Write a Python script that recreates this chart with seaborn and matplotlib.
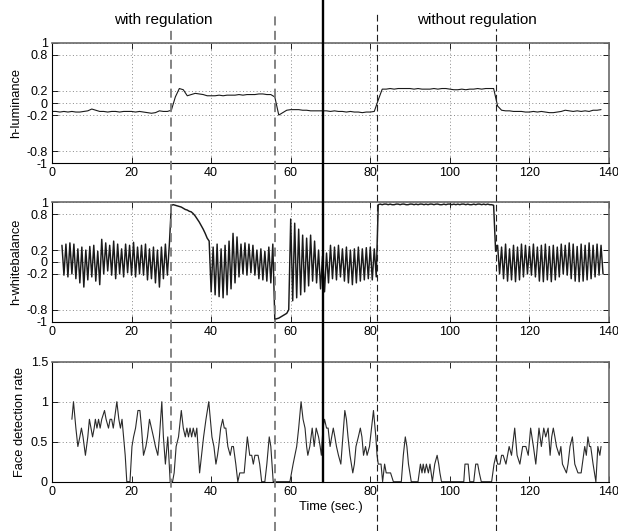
import numpy as np
import pandas as pd
import matplotlib
matplotlib.use("Agg")
import matplotlib.pyplot as plt
import seaborn as sns
from matplotlib.lines import Line2D

# ---------------- data ----------------
xticks = [0, 20, 40, 60, 80, 100, 120, 140]
xticklabels = ["0", "20", "40", "60", "80", "100", "120", "140"]

lum_yticks = [-1, -0.8, -0.2, 0, 0.2, 0.8, 1]
lum_yticklabels = ["-1", "-0.8", "-0.2", "0", "0.2", "0.8", "1"]
wb_yticks = [-1, -0.8, -0.2, 0, 0.2, 0.8, 1]
wb_yticklabels = ["-1", "-0.8", "-0.2", "0", "0.2", "0.8", "1"]
fd_yticks = [0, 0.5, 1, 1.5]
fd_yticklabels = ["0", "0.5", "1", "1.5"]

# h-luminance, sampled every 1 s starting at t = 0
lum_t0, lum_dt = 0.0, 1.0
lum_v = [
    -0.14, -0.14, -0.15, -0.14, -0.15, -0.14, -0.15, -0.15, -0.14, -0.13,
    -0.10, -0.12, -0.14, -0.14, -0.15, -0.14, -0.14, -0.15, -0.14, -0.14,
    -0.14, -0.15, -0.14, -0.15, -0.16, -0.17, -0.16, -0.13, -0.14, -0.14,
    -0.12, 0.10, 0.24, 0.22, 0.12, 0.14, 0.16, 0.15, 0.14, 0.12,
    0.12, 0.12, 0.13, 0.12, 0.13, 0.13, 0.13, 0.14, 0.13, 0.14,
    0.14, 0.14, 0.15, 0.15, 0.14, 0.14, 0.10, -0.20, -0.16, -0.12,
    -0.11, -0.11, -0.11, -0.12, -0.12, -0.13, -0.13, -0.13, -0.13, -0.13,
    -0.14, -0.13, -0.14, -0.14, -0.15, -0.14, -0.15, -0.15, -0.16, -0.15,
    -0.15, -0.14, 0.05, 0.23, 0.23, 0.24, 0.23, 0.24, 0.24, 0.24,
    0.24, 0.23, 0.24, 0.23, 0.23, 0.23, 0.24, 0.23, 0.24, 0.24,
    0.23, 0.22, 0.22, 0.23, 0.22, 0.23, 0.23, 0.24, 0.23, 0.24,
    0.24, 0.24, -0.05, -0.12, -0.13, -0.13, -0.14, -0.14, -0.14, -0.15,
    -0.15, -0.14, -0.15, -0.14, -0.15, -0.16, -0.16, -0.15, -0.14, -0.12,
    -0.13, -0.14, -0.13, -0.14, -0.13, -0.14, -0.12, -0.12, -0.11,
]

# h-whitebalance, sampled every 0.5 s starting at t = 2.5
wb_t0, wb_dt = 2.5, 0.5
wb_osc1 = [  # 2.5 .. 29.5
    0.28, -0.22, 0.30, -0.25, 0.32, -0.20, 0.30, -0.28, 0.22, -0.35,
    0.25, -0.42, 0.20, -0.30, 0.26, -0.25, 0.28, -0.32, 0.18, -0.38,
    0.38, -0.20, 0.32, -0.15, 0.28, -0.22, 0.35, -0.28, 0.30, -0.20,
    0.22, -0.25, 0.30, -0.18, 0.28, -0.22, 0.33, -0.25, 0.25, -0.20,
    0.28, -0.22, 0.30, -0.30, 0.22, -0.28, 0.25, -0.35, 0.20, -0.42,
    0.25, -0.28, 0.30, -0.22, 0.30,
]
wb_decay = [  # 30.0 .. 39.0
    0.95, 0.96, 0.95, 0.94, 0.93, 0.92, 0.90, 0.88, 0.87, 0.85,
    0.84, 0.81, 0.77, 0.72, 0.67, 0.61, 0.55, 0.48, 0.40,
]
wb_osc2 = [  # 39.5 .. 55.5
    0.35, -0.50, 0.25, -0.55, 0.30, -0.58, 0.22, -0.60, 0.28, -0.55,
    0.35, -0.45, 0.48, -0.35, 0.42, -0.25, 0.30, -0.20, 0.32, -0.22,
    0.30, -0.18, 0.28, -0.22, 0.20, -0.28, 0.22, -0.30, 0.18, -0.32,
    0.25, -0.35, 0.30,
]
wb_low = [-0.96, -0.95, -0.94, -0.92, -0.90, -0.88, -0.86, -0.80]  # 56.0 .. 59.5
wb_osc3 = [  # 60.0 .. 81.5
    0.72, -0.65, 0.65, -0.60, 0.55, -0.55, 0.45, -0.50, 0.40, -0.40,
    0.45, -0.32, 0.35, -0.35, 0.20, -0.45, 0.10, -0.50, 0.15, -0.35,
    0.28, -0.28, 0.25, -0.30, 0.28, -0.25, 0.22, -0.32, 0.25, -0.35,
    0.20, -0.38, 0.22, -0.35, 0.25, -0.32, 0.22, -0.30, 0.24, -0.28,
    0.25, -0.30, 0.22, -0.25,
]
wb_high = [  # 82.0 .. 111.0
    0.96, 0.97, 0.96, 0.97, 0.97, 0.96, 0.97, 0.96, 0.96, 0.97,
    0.97, 0.96, 0.97, 0.97, 0.96, 0.96, 0.97, 0.97, 0.96, 0.97,
    0.96, 0.97, 0.97, 0.96, 0.97, 0.96, 0.97, 0.97, 0.96, 0.97,
    0.97, 0.96, 0.96, 0.97, 0.96, 0.97, 0.97, 0.96, 0.97, 0.96,
    0.97, 0.96, 0.97, 0.97, 0.96, 0.97, 0.96, 0.96, 0.97, 0.96,
    0.97, 0.97, 0.96, 0.97, 0.96, 0.97, 0.96, 0.96, 0.95,
]
wb_osc4 = [  # 111.5 .. 138.5
    0.18,
    0.28, -0.20, 0.25, -0.28, 0.30, -0.32, 0.22, -0.30, 0.28, -0.33,
    0.25, -0.30, 0.30, -0.25, 0.28, -0.20, 0.26, -0.22, 0.30, -0.25,
    0.25, -0.32, 0.28, -0.33, 0.30, -0.30, 0.26, -0.33, 0.28, -0.30,
    0.25, -0.25, 0.30, -0.20, 0.28, -0.22, 0.32, -0.28, 0.30, -0.32,
    0.26, -0.33, 0.30, -0.32, 0.28, -0.30, 0.32, -0.28, 0.28, -0.25,
    0.30, -0.22, 0.28, -0.20,
]

# face detection rate: (time, value) vertices
fd_t = [
    5.0, 5.4, 6.0, 6.5, 7.0, 7.4, 7.8, 8.4, 9.0, 9.4, 9.8, 10.2, 10.6, 10.9, 11.3, 11.7,
    12.1, 12.5, 13.2, 13.6, 14.2, 14.6, 15.0, 15.4, 16.3, 16.8, 17.2, 17.6, 18.0, 18.4,
    18.8, 19.6, 20.1, 20.5, 21.0, 21.6, 22.1, 22.5, 23.0, 23.6, 24.0, 24.5, 25.0, 25.5,
    26.0, 26.6, 27.0, 27.6, 28.0, 28.5, 29.1, 29.7, 30.3, 30.7, 31.2, 31.8, 32.5, 33.0,
    33.5, 33.9, 34.3, 34.7, 35.1, 35.5, 36.0, 36.4, 37.1, 37.6, 38.1, 38.7, 39.4, 39.8,
    40.2, 40.7, 41.2, 41.6, 41.9, 42.4, 42.9, 43.3, 43.7, 44.2, 44.8, 45.2, 45.6, 46.2,
    46.7, 47.2, 48.3, 49.1, 49.7, 50.2, 50.6, 51.0, 51.8, 52.2, 52.7, 53.5, 54.0, 54.6,
    55.0, 55.3, 55.6, 59.8, 60.6, 61.5, 62.0, 62.6, 63.1, 63.6, 64.0, 64.3, 64.8, 65.1,
    65.4, 65.9, 66.4, 67.0, 67.4, 67.7, 68.1, 68.5, 69.0, 69.4, 69.9, 70.3, 70.7, 71.1,
    71.5, 72.0, 72.6, 73.1, 73.6, 74.0, 74.4, 74.9, 75.6, 76.0, 76.4, 77.0, 77.5, 77.9,
    78.3, 78.8, 79.2, 79.8, 80.3, 80.8, 81.4, 81.7, 82.0, 82.7, 83.1, 83.6, 84.0, 85.1,
    85.8, 87.8, 88.3, 88.8, 89.2, 89.6, 90.3, 92.0, 92.6, 93.0, 93.3, 93.7, 94.1, 94.6,
    95.0, 95.6, 96.2, 96.8, 97.2, 97.5, 97.9, 103.5, 103.8, 104.6, 105.0, 106.0, 106.5,
    107.0, 107.4, 107.9, 110.5, 111.1, 111.6, 112.0, 112.6, 113.0, 113.4, 114.1, 114.5,
    114.9, 115.5, 116.3, 116.9, 117.6, 118.3, 119.1, 119.7, 120.3, 121.0, 121.6, 122.4,
    123.0, 123.6, 124.1, 124.7, 125.2, 125.6, 126.0, 126.4, 126.8, 127.5, 127.9, 128.3,
    129.3, 129.7, 130.2, 130.8, 131.4, 132.2, 133.0, 133.9, 134.3, 134.7, 135.1, 135.4,
    136.0, 136.7, 137.2, 137.7, 138.0,
]
fd_v = [
    0.78, 1.00, 0.67, 0.44, 0.56, 0.67, 0.56, 0.33, 0.56, 0.78, 0.67, 0.56, 0.67, 0.78, 0.67, 0.78,
    0.67, 0.78, 0.89, 0.78, 0.67, 0.78, 0.78, 0.67, 1.00, 0.78, 0.67, 0.78, 0.56, 0.33,
    0.00, 0.00, 0.44, 0.56, 0.67, 0.89, 0.89, 0.67, 0.33, 0.44, 0.56, 0.78, 0.67, 0.56,
    0.44, 0.33, 0.56, 1.00, 0.56, 0.22, 0.56, 0.00, 0.00, 0.11, 0.44, 0.56, 0.89, 0.67,
    0.56, 0.67, 0.56, 0.67, 0.56, 0.67, 0.56, 0.67, 0.11, 0.33, 0.56, 0.78, 1.00, 0.78,
    0.56, 0.44, 0.22, 0.33, 0.44, 0.67, 0.78, 0.67, 0.67, 0.44, 0.33, 0.44, 0.44, 0.22,
    0.00, 0.11, 0.11, 0.56, 0.33, 0.33, 0.22, 0.33, 0.33, 0.22, 0.00, 0.00, 0.22, 0.56,
    0.44, 0.22, 0.00, 0.00, 0.22, 0.44, 0.67, 1.00, 0.78, 0.67, 0.44, 0.33, 0.44, 0.56,
    0.67, 0.44, 0.67, 0.56, 0.44, 0.33, 0.67, 0.78, 0.67, 0.67, 0.44, 0.56, 0.67, 0.56,
    0.44, 0.33, 0.22, 0.56, 0.89, 0.78, 0.56, 0.33, 0.11, 0.22, 0.44, 0.56, 0.67, 0.56,
    0.33, 0.44, 0.33, 0.44, 0.67, 0.89, 0.56, 0.33, 0.22, 0.22, 0.00, 0.22, 0.11, 0.11,
    0.00, 0.00, 0.33, 0.56, 0.44, 0.22, 0.00, 0.00, 0.22, 0.11, 0.22, 0.11, 0.22, 0.11,
    0.22, 0.00, 0.22, 0.33, 0.22, 0.11, 0.00, 0.00, 0.22, 0.22, 0.00, 0.00, 0.22,
    0.22, 0.11, 0.00, 0.00, 0.22, 0.33, 0.22, 0.22, 0.33, 0.33, 0.22, 0.33,
    0.44, 0.33, 0.67, 0.33, 0.22, 0.44, 0.44, 0.33, 0.67, 0.44, 0.22, 0.67,
    0.44, 0.67, 0.56, 0.67, 0.33, 0.56, 0.67, 0.56, 0.44, 0.33, 0.44, 0.22,
    0.11, 0.22, 0.44, 0.56, 0.22, 0.11, 0.11, 0.44, 0.33, 0.56, 0.44, 0.44,
    0.22, 0.00, 0.44, 0.33, 0.44,
]

# event times (s) and region titles
reg_on_t = [30.0, 56.0]        # with-regulation face events (gray dashed)
noreg_on_t = [81.7, 111.7]     # without-regulation face events (black dashed)
split_t = 68.0                 # boundary between the two experiments
title_with = ("with regulation", 28.0)
title_without = ("without regulation", 106.8)

# ---------------- frames ----------------
lum_df = pd.DataFrame({"t": lum_t0 + lum_dt * np.arange(len(lum_v)), "v": lum_v})
wb_v = wb_osc1 + wb_decay + wb_osc2 + wb_low + wb_osc3 + wb_high + wb_osc4
wb_df = pd.DataFrame({"t": wb_t0 + wb_dt * np.arange(len(wb_v)), "v": wb_v})
fd_df = pd.DataFrame({"t": fd_t, "v": fd_v})

# ---------------- plot ----------------
sns.set_theme(style="white")
plt.rcParams["font.family"] = ["Liberation Sans", "DejaVu Sans"]
plt.rcParams["axes.unicode_minus"] = False

W, H = 618, 531
fig = plt.figure(figsize=(W / 100, H / 100), dpi=100)
left, width = 52 / W, 557 / W
ax1 = fig.add_axes([left, 1 - 163.3 / H, width, 120.6 / H])
ax2 = fig.add_axes([left, 1 - 321.7 / H, width, 119.4 / H])
ax3 = fig.add_axes([left, 1 - 481.7 / H, width, 120.0 / H])

line_kw = dict(estimator=None, sort=False)
sns.lineplot(data=lum_df, x="t", y="v", ax=ax1, color="#1a1a1a", linewidth=0.8, **line_kw)
sns.lineplot(data=wb_df, x="t", y="v", ax=ax2, color="#1a1a1a", linewidth=1.05, **line_kw)
sns.lineplot(data=fd_df, x="t", y="v", ax=ax3, color="#2a2a2a", linewidth=0.8, **line_kw)

grid_ls = (0, (1, 2.5))


def style(ax, yticks, ylabels, ylim, ylabel, xgrid=True):
    ax.set_xlim(0, 140)
    ax.set_ylim(*ylim)
    ax.set_xticks(xticks)
    ax.set_xticklabels(xticklabels)
    ax.set_yticks(yticks)
    ax.set_yticklabels(ylabels)
    ax.tick_params(direction="in", length=4, width=0.6, top=True, right=True,
                   bottom=True, left=True, labelsize=9, pad=3, colors="black")
    ax.set_axisbelow(True)
    ax.grid(False)
    ax.yaxis.grid(True, linestyle=grid_ls, color="#8a8a8a", linewidth=0.7)
    if xgrid:
        ax.xaxis.grid(True, linestyle=grid_ls, color="#8a8a8a", linewidth=0.7)
    for s in ["left", "bottom"]:
        ax.spines[s].set_color("black")
        ax.spines[s].set_linewidth(0.8)
    for s in ["top", "right"]:
        ax.spines[s].set_color("#6a6a6a")
        ax.spines[s].set_linewidth(1.2)
    ax.set_ylabel(ylabel, fontsize=9.3, labelpad=3, color="black")
    ax.set_xlabel("")


style(ax1, lum_yticks, lum_yticklabels, (-1, 1), "h-luminance")
style(ax2, wb_yticks, wb_yticklabels, (-1, 1), "h-whitebalance")
style(ax3, fd_yticks, fd_yticklabels, (0, 1.5), "Face detection rate", xgrid=False)
ax3.set_xlabel("Time (sec.)", fontsize=9.3, labelpad=2, color="black")

inv = fig.transFigure.inverted()


def xfig(t):
    return inv.transform(ax1.transData.transform((t, 0)))[0]


top_y = 1 - 12 / H
for t in reg_on_t:
    x = xfig(t)
    fig.add_artist(Line2D([x, x], [0, top_y], transform=fig.transFigure,
                          color="#7a7a7a", linewidth=1.3, linestyle=(0, (5, 3)), zorder=5))
for t in noreg_on_t:
    x = xfig(t)
    fig.add_artist(Line2D([x, x], [0, top_y], transform=fig.transFigure,
                          color="#202020", linewidth=0.8, linestyle=(0, (6, 3)), zorder=5))
x = xfig(split_t)
fig.add_artist(Line2D([x, x], [1 - 481.7 / H, 1], transform=fig.transFigure,
                      color="black", linewidth=1.7, zorder=5))

for text, t in [title_with, title_without]:
    fig.text(xfig(t), 1 - 20 / H, text, ha="center", va="center", fontsize=11,
             color="black", zorder=6,
             bbox=dict(facecolor="white", edgecolor="none", pad=1.5))

fig.savefig("out.png", dpi=100)
